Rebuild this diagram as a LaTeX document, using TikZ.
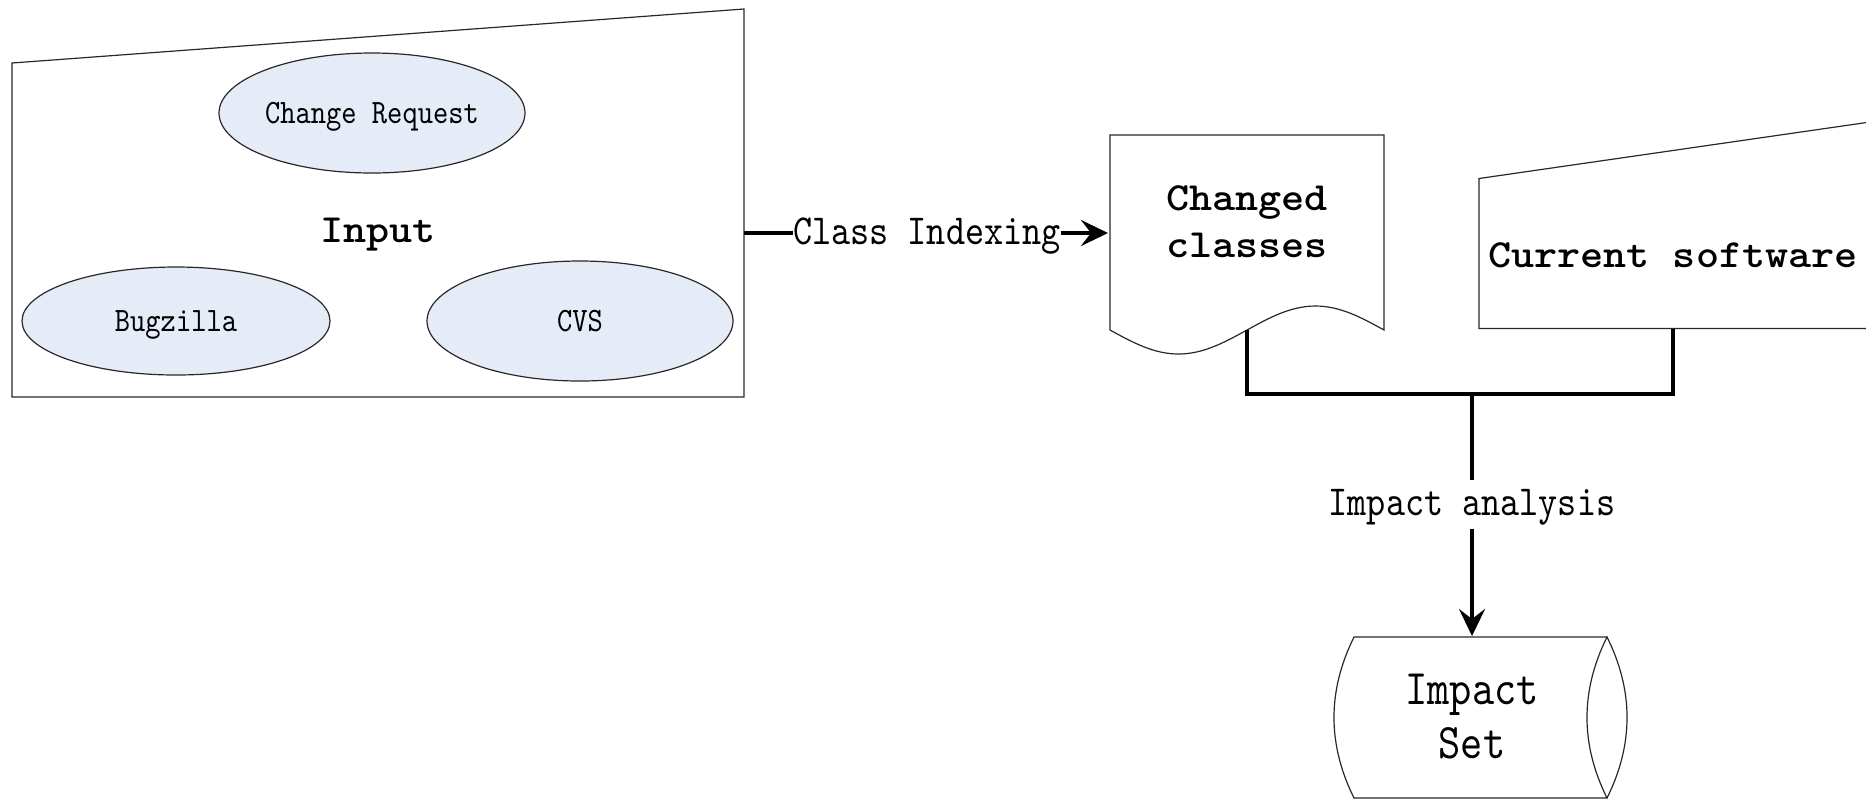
\documentclass[tikz,border=0pt]{standalone}
\usepackage{fontspec}
\usetikzlibrary{arrows.meta,shapes.geometric}
\newfontfamily\simfont[FakeStretch=0.85]{lmmono10-regular.otf}
\newfontfamily\courfont[FakeStretch=1.1]{lmmonolt10-bold.otf}
\definecolor{ellfill}{RGB}{230,236,247}
\definecolor{edgegray}{RGB}{40,40,40}
\begin{document}
\begin{tikzpicture}[x=0.5pt,y=-0.5pt,
  outline/.style={draw=edgegray,line width=0.6pt},
  ell/.style={ellipse,outline,fill=ellfill,inner sep=0pt,
    font=\simfont\fontsize{17.1}{21}\selectfont,text height=10.5pt,text depth=0pt},
  lbl/.style={inner sep=0pt,font=\simfont\fontsize{21.4}{26}\selectfont},
  bigtxt/.style={inner sep=0pt,align=center,font=\simfont\fontsize{24.9}{27}\selectfont},
  boldtxt/.style={inner sep=0pt,align=center,font=\courfont\fontsize{20}{23.5}\selectfont},
  conn/.style={line width=2pt,draw=black},
  arr/.style={-{Stealth[length=13.5pt,width=13pt,inset=5pt]}}]
\useasboundingbox (0,0) rectangle (1866,800);

% Input manual-input shape
\draw[outline] (12,63) -- (744,9) -- (744,397) -- (12,397) -- cycle;
\coordinate (inR) at (744,233);
\node[ell,minimum width=153pt,minimum height=60pt] (cr) at (372,113) {Change Request};
\node[ell,minimum width=154pt,minimum height=54pt] (bz) at (176,321) {Bugzilla};
\node[ell,minimum width=153pt,minimum height=60pt] (cvs) at (580,321) {CVS};
\node[inner sep=0pt,anchor=base,font=\courfont\fontsize{20}{23.5}\selectfont] (inlbl) at (378,242) {Input};

% Changed classes document
\draw[outline,fill=white] (1110,330) -- (1110,135) -- (1384,135) -- (1384,330)
  sin (1315.5,306) cos (1247,330) sin (1178.5,354) cos (1110,330) -- cycle;
\node[boldtxt] (chg) at (1247,222) {Changed\\classes};
\coordinate (docL) at (1108,233);
\coordinate (docB) at (1247,330);

% Current software manual-input shape
\draw[outline] (1479,178.5) -- (1868,122.3) -- (1868,328.5) -- (1479,328.5) -- cycle;
\node[boldtxt] (cs) at (1673,255) {Current software};
\coordinate (csB) at (1673,328.5);

% Impact Set stored-data shape
\draw[outline,fill=white] (1354,637) -- (1607,637)
  .. controls (1580.3,690.7) and (1580.3,744.3) .. (1607,798)
  -- (1354,798)
  .. controls (1327.3,744.3) and (1327.3,690.7) .. (1354,637) -- cycle;
\draw[outline] (1607,637) .. controls (1633.7,690.7) and (1633.7,744.3) .. (1607,798);
\node[bigtxt] (imp) at (1472,717) {Impact\\Set};
\coordinate (isT) at (1472,636);

% Class Indexing connector
\node[lbl,text height=14pt,text depth=3pt] (lblCI) at (927,233) {Class Indexing};
\draw[conn] (inR) -- (lblCI.west);
\draw[conn,arr] (lblCI.east) -- (docL);

% Impact analysis connector
\coordinate (j) at (1472,394);
\draw[conn] (docB) -- (docB |- j) -- (csB |- j) -- (csB);
\node[lbl,anchor=north,text height=17.5pt,text depth=6.5pt] (lblIA) at (1472,480) {Impact analysis};
\draw[conn] (j) -- (lblIA.north);
\draw[conn,arr] (lblIA.south) -- (isT);
\end{tikzpicture}
\end{document}
